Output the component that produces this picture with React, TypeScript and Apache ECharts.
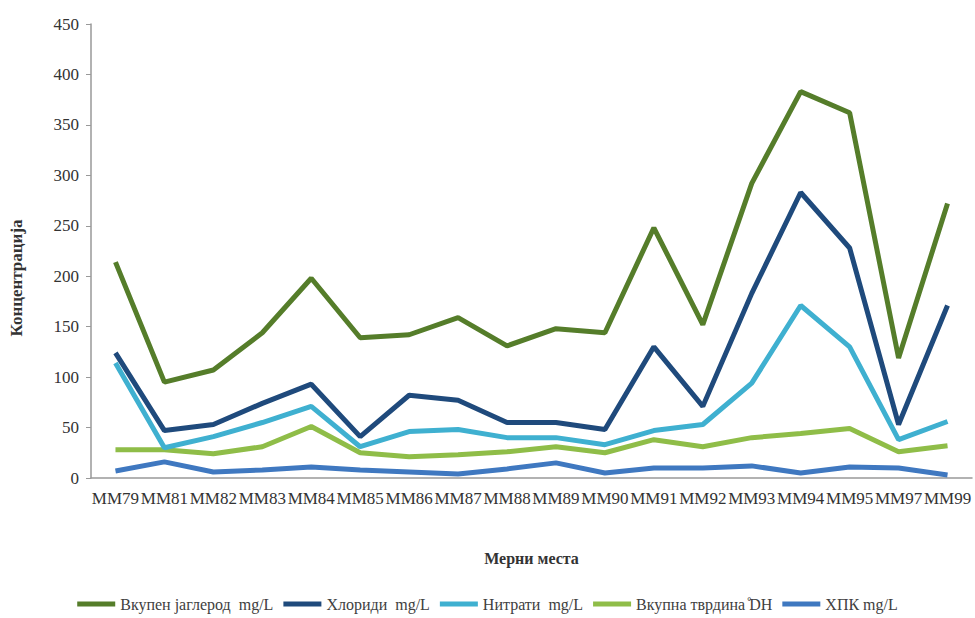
import React, { useEffect, useRef } from "react";
import * as echarts from "echarts";

const categories = [
  "MM79", "MM81", "MM82", "MM83", "MM84", "MM85", "MM86", "MM87", "MM88",
  "MM89", "MM90", "MM91", "MM92", "MM93", "MM94", "MM95", "MM97", "MM99",
];

const seriesNames = [
  "Вкупен јаглерод  mg/L",
  "Хлориди  mg/L",
  "Нитрати  mg/L",
  "Вкупна тврдина ̊DH",
  "ХПК mg/L",
];

const totalCarbon = [214, 95, 107, 144, 198, 139, 142, 159, 131, 148, 144, 248, 152, 292, 383, 362, 119, 272];
const chlorides = [124, 47, 53, 74, 93, 41, 82, 77, 55, 55, 48, 130, 71, 183, 283, 228, 53, 171];
const nitrates = [114, 30, 41, 55, 71, 31, 46, 48, 40, 40, 33, 47, 53, 94, 171, 130, 38, 56];
const hardness = [28, 28, 24, 31, 51, 25, 21, 23, 26, 31, 25, 38, 31, 40, 44, 49, 26, 32];
const cod = [7, 16, 6, 8, 11, 8, 6, 4, 9, 15, 5, 10, 10, 12, 5, 11, 10, 3];

const colors = ["#557d2a", "#1f4a7c", "#3fb0d0", "#8fbd48", "#3f78c0"];

const serif = "Liberation Serif";

export default function App() {
  const ref = useRef<HTMLDivElement>(null);

  useEffect(() => {
    if (!ref.current) return;
    const chart = echarts.init(ref.current, undefined, { renderer: "svg" });
    const values = [totalCarbon, chlorides, nitrates, hardness, cod];
    chart.setOption({
      animation: false,
      backgroundColor: "#ffffff",
      color: colors,
      textStyle: { fontFamily: serif },
      grid: { left: 87, right: 3, top: 24, bottom: 140, containLabel: false },
      legend: {
        bottom: 1,
        left: "center",
        icon: "rect",
        itemWidth: 38,
        itemHeight: 5,
        itemGap: 10,
        textStyle: { fontFamily: serif, fontSize: 16, color: "#404040" },
        data: seriesNames,
      },
      xAxis: {
        type: "category",
        data: categories,
        boundaryGap: true,
        name: "Мерни места",
        nameLocation: "middle",
        nameGap: 72,
        nameTextStyle: { fontFamily: serif, fontSize: 16, fontWeight: "bold", color: "#333" },
        axisLine: { lineStyle: { color: "#999", width: 1.5 } },
        axisTick: { show: false },
        axisLabel: {
          interval: 0,
          hideOverlap: false,
          margin: 12,
          fontFamily: serif,
          fontSize: 17,
          color: "#333",
        },
      },
      yAxis: {
        type: "value",
        min: 0,
        max: 450,
        interval: 50,
        name: "Концентрација",
        nameLocation: "middle",
        nameGap: 66,
        nameRotate: 90,
        nameTextStyle: {
          fontFamily: serif,
          fontSize: 17,
          fontWeight: "bold",
          color: "#333",
          padding: [0, 54, 0, 0],
        },
        axisLine: { show: true, lineStyle: { color: "#999", width: 1.5 } },
        axisTick: { show: true, length: 5, lineStyle: { color: "#999" } },
        splitLine: { show: false },
        axisLabel: { fontFamily: serif, fontSize: 17, color: "#333", margin: 12 },
      },
      series: seriesNames.map((name, i) => ({
        name,
        type: "line",
        data: values[i],
        symbol: "none",
        lineStyle: { width: 5, color: colors[i] },
        itemStyle: { color: colors[i] },
        z: 10 - i,
      })),
    });
    return () => chart.dispose();
  }, []);

  return (
    <div
      ref={ref}
      style={{ position: "fixed", left: 0, top: 0, width: 975, height: 618, background: "#fff" }}
    />
  );
}
